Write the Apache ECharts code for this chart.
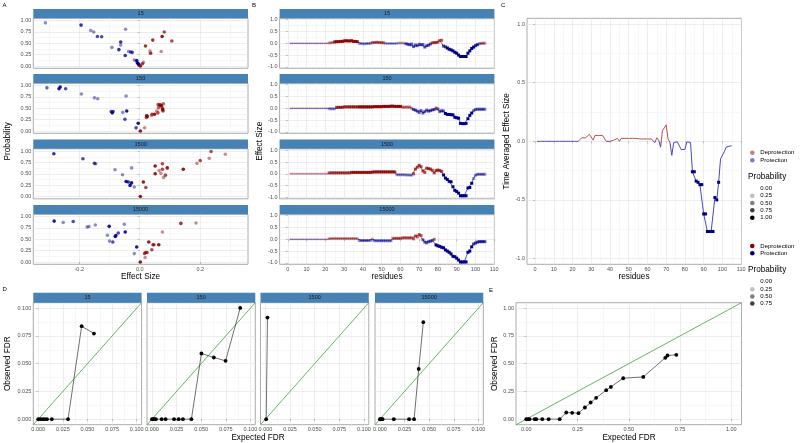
<!DOCTYPE html>
<html><head><meta charset="utf-8">
<script src="https://cdn.jsdelivr.net/npm/echarts@6/dist/echarts.min.js"></script>
<style>html,body{margin:0;padding:0;background:#fff}#c{width:800px;height:443px}</style>
</head><body><div id="c"></div>
<script>
// ---------------- DATA ----------------
const facets = ['15', '150', '1500', '15000'];

// Panel A: [effect size, probability, point alpha]
const A_15 = [[-0.312,0.95,0.45],[-0.194,0.90,0.8],[-0.162,0.78,0.45],[-0.152,0.75,0.45],[-0.140,0.65,0.7],[-0.126,0.645,0.7],[-0.047,0.81,0.45],[-0.092,0.41,0.45],[-0.063,0.53,0.8],[-0.063,0.46,0.45],[-0.069,0.36,0.8],[-0.048,0.23,0.8],[-0.037,0.32,0.45],[-0.030,0.31,0.7],[-0.025,0.30,0.7],[-0.018,0.13,0.45],[-0.010,0.12,0.9],[-0.008,0.07,0.9],[-0.005,0.05,0.9],[-0.003,0.03,0.9],
  [0.002,0.0,0.9],[0.009,0.05,0.7],[0.012,0.08,0.45],[0.019,0.44,0.8],[0.034,0.33,0.45],[0.036,0.28,0.8],[0.043,0.57,0.8],[0.074,0.65,0.9],[0.081,0.75,0.7],[0.071,0.32,0.45],[0.106,0.55,0.7]];
const A_150 = [[-0.307,0.95,0.6],[-0.267,0.93,0.9],[-0.263,0.97,0.9],[-0.245,0.93,0.7],[-0.193,0.815,0.45],[-0.150,0.73,0.45],[-0.139,0.71,0.45],[-0.045,0.77,0.45],[-0.094,0.43,0.7],[-0.091,0.40,0.9],[-0.088,0.43,0.7],[-0.056,0.41,0.45],[-0.043,0.44,0.9],[-0.049,0.26,0.7],[-0.005,0.17,0.9],[-0.012,0.07,0.7],
  [0.002,0.0,0.9],[0.016,0.07,0.45],[0.023,0.34,0.8],[0.025,0.32,0.9],[0.022,0.30,0.7],[0.039,0.34,0.45],[0.041,0.37,0.7],[0.049,0.37,0.9],[0.056,0.44,0.45],[0.060,0.40,0.7],[0.062,0.51,0.6],[0.061,0.58,0.7],[0.069,0.57,0.9],[0.072,0.55,0.9],[0.066,0.57,0.7],[0.078,0.60,0.6],[0.075,0.50,0.7],[0.076,0.47,0.9],[0.077,0.44,0.7]];
const A_1500 = [[-0.284,0.94,0.8],[-0.188,0.83,0.7],[-0.150,0.73,0.7],[-0.146,0.72,0.5],[-0.082,0.59,0.45],[-0.057,0.48,0.45],[-0.027,0.63,0.45],[-0.045,0.33,0.9],[-0.038,0.32,0.8],[-0.032,0.245,0.9],[-0.027,0.30,0.9],[-0.018,0.21,0.45],
  [0.002,0.0,0.9],[0.012,0.32,0.9],[0.020,0.20,0.7],[0.051,0.67,0.9],[0.051,0.50,0.9],[0.064,0.57,0.45],[0.070,0.51,0.45],[0.075,0.72,0.7],[0.075,0.60,0.7],[0.079,0.42,0.45],[0.085,0.47,0.7],[0.091,0.63,0.9],[0.144,0.60,0.9],[0.189,0.73,0.45],[0.200,0.79,0.7],[0.230,0.84,0.45],[0.236,0.99,0.7],[0.283,0.93,0.45]];
const A_15000 = [[-0.283,0.90,0.9],[-0.253,0.87,0.45],[-0.220,0.89,0.7],[-0.174,0.77,0.45],[-0.168,0.78,0.45],[-0.147,0.815,0.45],[-0.101,0.785,0.9],[-0.051,0.83,0.45],[-0.107,0.59,0.45],[-0.100,0.46,0.45],[-0.089,0.44,0.7],[-0.079,0.585,0.9],[-0.081,0.56,0.9],[-0.071,0.64,0.7],[-0.048,0.66,0.9],[-0.010,0.33,0.9],[-0.018,0.185,0.45],
  [0.002,0.0,0.9],[0.016,0.19,0.7],[0.020,0.21,0.7],[0.024,0.21,0.7],[0.018,0.10,0.45],[0.030,0.44,0.9],[0.040,0.27,0.7],[0.044,0.38,0.7],[0.047,0.38,0.7],[0.063,0.38,0.9],[0.075,0.66,0.45],[0.136,0.85,0.8],[0.186,0.86,0.45]];

// Panel B: effect size per residue (1..105) and probability per residue
const B_15 = [0,0,0,0,0,0,0,0,0,0, 0,0,0,0,0,0,0,0,0,0,
  0,0.02,0.02,0.03,0.06,0.07,0.07,0.08,0.08,0.10,
  0.11,0.10,0.10,0.11,0.08,0.08,0.07,-0.01,-0.01,-0.02,
  -0.02,-0.01,-0.01,-0.01,0.03,0.03,0.04,0.04,0.03,0.03,
  0.02,-0.01,-0.01,-0.01,-0.01,-0.01,-0.01,-0.01,0.01,0.01,
  0.01,0.01,-0.02,-0.04,-0.06,-0.03,-0.14,-0.07,-0.10,-0.04,
  -0.06,-0.05,-0.16,-0.10,-0.08,-0.03,0.02,0.03,0.03,0.05,
  0.12,0.13,-0.12,-0.15,-0.20,-0.25,-0.28,-0.32,-0.38,-0.42,
  -0.50,-0.56,-0.56,-0.56,-0.56,-0.42,-0.32,-0.22,-0.16,-0.10,
  -0.06,-0.02,0,0,0];
const B_150 = [0,0,0,0,0,0,0,0,0,0, 0,0,0,0,0,0,0,0,0,0,
  0,-0.02,-0.02,-0.02,-0.02,0.04,0.04,0.04,0.04,0.06,
  0.06,0.06,0.06,0.06,0.06,0.06,0.06,0.06,0.06,0.06,
  0.06,0.06,0.06,0.06,0.06,0.07,0.07,0.07,0.07,0.07,
  0.08,0.08,0.08,0.08,0.09,0.09,0.08,0.08,0.08,0.08,
  0.05,0.05,0.05,0.05,0.05,0.0,-0.05,-0.08,-0.12,-0.18,
  -0.10,-0.20,-0.14,-0.08,-0.12,-0.10,-0.07,-0.05,0.01,-0.03,
  -0.14,-0.10,-0.12,-0.22,-0.26,-0.26,-0.27,-0.28,-0.38,-0.40,
  -0.42,-0.64,-0.65,-0.65,-0.64,-0.44,-0.30,-0.20,-0.10,-0.05,
  -0.04,-0.04,-0.04,-0.04,-0.04];
const B_1500 = [0,0,0,0,0,0,0,0,0,0, 0,0,0,0,0,0,0,0,0,0,
  0,0.04,0.04,0.04,0.04,0.04,0.04,0.04,0.04,0.04,
  0.04,0.04,0.04,0.06,0.06,0.06,0.06,0.06,0.06,0.06,
  0.06,0.06,0.06,0.06,0.07,0.08,0.08,0.08,0.08,0.08,
  0.08,0.08,0.08,0.08,0.08,0.08,0.08,-0.04,-0.04,-0.04,
  -0.04,-0.04,-0.05,-0.05,-0.05,-0.06,0.0,0.20,0.28,0.36,
  0.30,0.12,0.06,0.24,0.22,0.20,0.15,0.04,0.14,0.16,
  0.14,0.10,-0.05,-0.18,-0.24,-0.32,-0.34,-0.55,-0.70,-0.75,
  -0.82,-0.93,-0.93,-0.93,-0.93,-0.60,-0.58,-0.40,-0.20,-0.06,
  -0.02,-0.02,-0.02,-0.02,-0.02];
const B_15000 = [0,0,0,0,0,0,0,0,0,0, 0,0,0,0,0,0,0,0,0,0,
  0,0.03,0.03,0.03,0.03,0.03,0.03,0.03,0.03,0.03,
  0.03,0.03,0.03,0.03,0.03,0.03,0.03,-0.05,-0.05,-0.05,
  -0.05,-0.05,-0.05,-0.05,0.0,-0.06,-0.06,-0.06,-0.06,-0.06,
  -0.06,-0.06,-0.06,-0.06,-0.06,0.04,0.04,0.04,0.04,0.04,
  0.06,0.06,0.06,0.06,0.06,0.06,0.02,0.14,0.10,0.20,
  0.16,-0.02,-0.12,-0.15,-0.10,-0.08,-0.05,0.0,-0.24,-0.28,
  -0.30,-0.34,-0.36,-0.45,-0.50,-0.55,-0.62,-0.72,-0.74,-0.80,
  -0.88,-0.96,-0.96,-0.96,-0.96,-0.55,-0.50,-0.32,-0.20,-0.16,
  -0.12,-0.10,-0.10,-0.10,-0.10];

const B_P15 = [0.05,0.05,0.05,0.05,0.05,0.05,0.05,0.05,0.05,0.05, 0.05,0.05,0.05,0.05,0.05,0.05,0.05,0.05,0.05,0.05,
  0.05,0.3,0.3,0.3,0.9,0.9,0.9,0.9,0.9,0.9,
  0.9,0.9,0.9,0.9,0.9,0.9,0.9,0.3,0.3,0.3,
  0.3,0.3,0.3,0.3,0.5,0.5,0.5,0.5,0.5,0.5,
  0.5,0.2,0.2,0.2,0.2,0.2,0.2,0.2,0.2,0.2,
  0.2,0.2,0.6,0.6,0.6,0.6,0.6,0.6,0.6,0.6,
  0.6,0.6,0.6,0.6,0.6,0.6,0.6,0.6,0.6,0.6,
  0.6,0.6,0.7,0.7,1,1,1,1,1,1,
  1,1,1,1,1,1,1,1,1,0.8,
  0.8,0.4,0.4,0.4,0.4];
const B_P150 = [0.05,0.05,0.05,0.05,0.05,0.05,0.05,0.05,0.05,0.05, 0.05,0.05,0.05,0.05,0.05,0.05,0.05,0.05,0.05,0.05,
  0.05,0.3,0.3,0.3,0.3,0.7,0.7,0.7,0.7,0.7,
  0.7,0.7,0.7,0.7,0.7,0.7,0.7,0.9,0.9,0.9,
  0.9,0.9,0.9,0.9,0.9,0.9,0.9,0.9,0.9,0.9,
  0.9,0.9,0.9,0.9,0.9,0.9,0.9,0.9,0.9,0.9,
  0.4,0.4,0.4,0.4,0.4,0.4,0.6,0.6,0.6,0.6,
  0.6,0.6,0.6,0.6,0.6,0.6,0.6,0.6,0.6,0.6,
  0.6,0.6,0.6,1,1,1,1,1,1,1,
  1,1,1,1,1,1,1,1,0.5,0.5,
  0.5,0.5,0.5,0.5,0.5];
const B_P1500 = [0.05,0.05,0.05,0.05,0.05,0.05,0.05,0.05,0.05,0.05, 0.05,0.05,0.05,0.05,0.05,0.05,0.05,0.05,0.05,0.05,
  0.05,0.6,0.6,0.6,0.6,0.6,0.6,0.6,0.6,0.6,
  0.6,0.6,0.6,0.8,0.8,0.8,0.8,0.8,0.8,0.8,
  0.8,0.8,0.8,0.8,0.8,0.8,0.8,0.8,0.8,0.8,
  0.8,0.8,0.8,0.8,0.8,0.8,0.8,0.3,0.3,0.3,
  0.3,0.3,0.3,0.3,0.3,0.3,0.7,0.7,0.7,0.7,
  0.7,0.7,0.7,0.7,0.7,0.7,0.7,0.7,0.7,0.7,
  0.7,0.7,1,1,1,1,1,1,1,1,
  1,1,1,1,1,1,1,1,0.4,0.4,
  0.4,0.4,0.4,0.4,0.4];
const B_P15000 = [0.05,0.05,0.05,0.05,0.05,0.05,0.05,0.05,0.05,0.05, 0.05,0.05,0.05,0.05,0.05,0.05,0.05,0.05,0.05,0.05,
  0.05,0.3,0.3,0.3,0.3,0.3,0.3,0.3,0.3,0.3,
  0.3,0.3,0.3,0.3,0.3,0.3,0.3,0.4,0.4,0.4,
  0.4,0.4,0.4,0.4,0.4,0.4,0.4,0.4,0.4,0.4,
  0.4,0.4,0.4,0.4,0.4,0.5,0.5,0.5,0.5,0.5,
  0.5,0.5,0.5,0.5,0.5,0.5,0.6,0.6,0.6,0.6,
  0.6,0.6,0.6,0.6,0.6,0.6,0.6,0.6,1,1,
  1,1,1,1,1,1,1,1,1,1,
  1,1,1,1,1,1,1,1,0.7,0.7,
  0.7,0.7,0.7,0.7,0.7];

// Panel C: time averaged effect size per residue, probability per residue
const C_eff = [0,0,0,0,0,0,0,0,0,0, 0,0,0,0,0,0,0,0,0,0,
  0,0,0,0,0.03,0.03,0.03,0.04,0.06,0.06,
  0.01,0.05,0.05,0.05,0.05,0.05,0.05,0,0,0,
  0,0.01,0.025,0.025,0,0.025,0.025,0.025,0.025,0.025,
  0.025,0.025,0.025,0.025,0.025,0.02,0.02,0.02,0.02,0.02,
  0.02,0.02,0.01,-0.01,0.03,0.01,-0.05,0.09,0.10,0.14,
  0.02,-0.01,-0.12,-0.01,-0.005,-0.005,-0.005,-0.07,-0.07,-0.07,
  -0.005,-0.01,-0.01,-0.26,-0.26,-0.34,-0.35,-0.37,-0.37,-0.62,
  -0.62,-0.77,-0.77,-0.77,-0.77,-0.48,-0.50,-0.35,-0.15,-0.16,
  -0.09,-0.05,-0.04,-0.04,-0.04];
const C_prob = [0,0,0,0,0,0,0,0,0,0, 0,0,0,0,0,0,0,0,0,0,
  0,0,0,0,0,0,0,0,0,0, 0,0,0,0,0,0,0,0,0,0,
  0,0,0,0,0,0,0,0,0,0, 0,0,0,0,0,0,0,0,0,0,
  0,0,0,0,0,0,0,0,0,0, 0,0,0,0,0,0,0,0,0,0,
  0,0,0,1,1,1,1,1,1,1, 1,1,1,1,1,1,1,1,0,0,
  0,0,0,0,0];

// Panel D: expected vs observed FDR per facet
const D_x15 = [0,0.0023,0.0046,0.0066,0.0089,0.0138,0.0303,0.0441,0.0566];
const D_y15 = [0,0,0,0,0,0,0,0.0838,0.0772];
const D_x150 = [0,0.0013,0.0026,0.004,0.0099,0.0139,0.0225,0.0272,0.0315,0.0401,0.0503,0.0629,0.0748,0.0897];
const D_y150 = [0,0,0,0,0,0,0,0,0,0,0.0592,0.0556,0.0526,0.1003];
const D_x1500 = [0.0008,0.0021];
const D_y1500 = [0,0.0916];
const D_x15000 = [0,0.0007,0.002,0.0027,0.0141,0.0296,0.0347,0.0394,0.0441];
const D_y15000 = [0,0,0,0,0,0,0,0.0453,0.0874];

// Panel E
const E_x = [0,0.008,0.016,0.041,0.049,0.078,0.109,0.163,0.195,0.224,0.255,0.286,0.314,0.341,0.390,0.413,0.473,0.571,0.678,0.689,0.732];
const E_y = [0,0,0,0,0,0,0,0,0.060,0.057,0.054,0.105,0.150,0.192,0.261,0.291,0.369,0.381,0.553,0.574,0.580];

// Tick values
const A_xTicks = [-0.2, 0, 0.2], A_xMinor = [-0.3, -0.1, 0.1, 0.3];
const P_ticks = [0, 0.25, 0.5, 0.75, 1], P_minor = [0.125, 0.375, 0.625, 0.875];
const R_ticks = [0,10,20,30,40,50,60,70,80,90,100,110], R_minor = [5,15,25,35,45,55,65,75,85,95,105];
const ES_ticks = [-1, -0.5, 0, 0.5, 1], ES_minor = [-0.75, -0.25, 0.25, 0.75];
const D_ticks = [0, 0.025, 0.05, 0.075, 0.1], D_minor = [0.0125, 0.0375, 0.0625, 0.0875];

// ---------------- STYLE / LAYOUT ----------------
const FONT = "'Liberation Sans', Arial, sans-serif";
const RED_DARK = '#8b0000', BLUE_DARK = '#00008b';
const RED_LINE = '#c04c4c', BLUE_LINE = '#4646c2';
const GREEN = '#3f9f3f';
const TICK_FS = 5.5, TITLE_FS = 8.2;

const ROW_TOP = [18.3, 83.3, 148.8, 214.3], ROW_H = 50, STRIP_H = 9.3;
const A_LEFT = 33.3, A_W = 214.7;
const B_LEFT = 279.6, B_W = 214.8;
const C_LEFT = 527, C_TOP = 18.3, C_W = 214.5, C_H = 246;
const D_LEFTS = [33.3, 147, 260.5, 375], D_W = 108.3, D_TOP = 302.7, D_H = 122, D_STRIP = 10;
const E_LEFT = 516, E_W = 225.5;

const grid = [], xAxis = [], yAxis = [], series = [], graphic = [];

function mainAxis(gi, pos, min, max, ticks, fmt, show) {
  return {type: 'value', gridIndex: gi, position: pos, min, max,
    axisLine: {show: false},
    axisTick: {show: show, length: 2, lineStyle: {color: '#9a9a9a', width: 0.6}, customValues: ticks},
    axisLabel: {show: show, customValues: ticks, formatter: v => fmt(v), fontSize: TICK_FS, color: '#4d4d4d', margin: 2, fontFamily: FONT},
    splitLine: {show: true, lineStyle: {color: '#e0e0e0', width: 0.6}}};
}
function minorAxis(gi, pos, min, max, ticks) {
  return {type: 'value', gridIndex: gi, position: pos, min, max,
    axisLine: {show: false},
    axisTick: {show: false, customValues: ticks},
    axisLabel: {show: false, customValues: ticks},
    splitLine: {show: true, lineStyle: {color: '#efefef', width: 0.5}}};
}
function panel(o) {
  const gi = grid.length;
  grid.push({left: o.left, top: o.top, width: o.w, height: o.h, show: true, containLabel: false, outerBoundsMode: 'none',
    backgroundColor: '#fff', borderColor: '#ababab', borderWidth: 1});
  const xi = xAxis.length, yi = yAxis.length;
  xAxis.push(mainAxis(gi, 'bottom', o.x[0], o.x[1], o.xt, o.xf, o.sx));
  xAxis.push(minorAxis(gi, 'top', o.x[0], o.x[1], o.xm));
  yAxis.push(mainAxis(gi, 'left', o.y[0], o.y[1], o.yt, o.yf, o.sy));
  yAxis.push(minorAxis(gi, 'right', o.y[0], o.y[1], o.ym));
  return {xi, yi, top: o.top, h: o.h, y: o.y};
}
function txt(x, y, s, size, opt) {
  opt = opt || {};
  graphic.push({type: 'text', x, y, rotation: opt.rot || 0, silent: true, z: 10,
    style: {text: s, x: 0, y: 0, fill: opt.color || '#000', fontSize: size, fontFamily: FONT,
      align: opt.align || 'center', verticalAlign: 'middle'}});
}
function strip(left, top, w, h, label) {
  graphic.push({type: 'rect', silent: true, z: 5, shape: {x: left, y: top - h, width: w, height: h}, style: {fill: '#4682B4'}});
  txt(left + w / 2, top - h / 2, label, 5.5, {color: '#1a1a1a'});
}
const f1 = v => v.toFixed(1), f2 = v => v.toFixed(2), f3 = v => v.toFixed(3), f0 = v => String(v);

// ---- Panel A
const A_sets = [A_15, A_150, A_1500, A_15000];
facets.forEach((f, i) => {
  const ax = panel({left: A_LEFT, top: ROW_TOP[i], w: A_W, h: ROW_H, x: [-0.352, 0.358], y: [-0.05, 1.05],
    xt: A_xTicks, xm: A_xMinor, yt: P_ticks, ym: P_minor, xf: f1, yf: f2, sx: i === 3, sy: true});
  series.push({type: 'scatter', xAxisIndex: ax.xi, yAxisIndex: ax.yi, symbolSize: 3.6,
    data: A_sets[i].map(p => ({value: [p[0], p[1]], itemStyle: {color: p[0] < 0 ? BLUE_DARK : RED_DARK, opacity: p[2]}}))});
  strip(A_LEFT, ROW_TOP[i], A_W, STRIP_H, f);
});

// ---- Panel B / C residue lines: colour switches at effect size 0 (gradient with hard stop at the zero line)
function signGradient(ax) {
  const f = (ax.y[1] - 0) / (ax.y[1] - ax.y[0]);
  return {type: 'linear', x: 0, y: ax.top, x2: 0, y2: ax.top + ax.h, global: true,
    colorStops: [{offset: 0, color: RED_LINE}, {offset: f, color: RED_LINE}, {offset: f, color: BLUE_LINE}, {offset: 1, color: BLUE_LINE}]};
}
function residueSeries(ax, vals, probs, lw) {
  series.push({type: 'line', xAxisIndex: ax.xi, yAxisIndex: ax.yi, showSymbol: false, symbol: 'none',
    lineStyle: {width: lw, color: signGradient(ax)}, data: vals.map((v, k) => [k + 1, v]), z: 3});
  series.push({type: 'scatter', xAxisIndex: ax.xi, yAxisIndex: ax.yi, symbol: 'rect', symbolSize: 3, z: 4,
    data: vals.map((v, k) => ({value: [k + 1, v], itemStyle: {color: v < 0 ? BLUE_DARK : RED_DARK, opacity: probs[k]}}))});
}
const B_sets = [B_15, B_150, B_1500, B_15000];
const B_probs = [B_P15, B_P150, B_P1500, B_P15000];
facets.forEach((f, i) => {
  const ax = panel({left: B_LEFT, top: ROW_TOP[i], w: B_W, h: ROW_H, x: [-4.4, 110.1], y: [-1.06, 1.06],
    xt: R_ticks, xm: R_minor, yt: ES_ticks, ym: ES_minor, xf: f0, yf: f1, sx: i === 3, sy: true});
  residueSeries(ax, B_sets[i], B_probs[i], 0.9);
  strip(B_LEFT, ROW_TOP[i], B_W, STRIP_H, f);
});

// ---- Panel C
{
  const ax = panel({left: C_LEFT, top: C_TOP, w: C_W, h: C_H, x: [-4.3, 110.2], y: [-1.05, 1.05],
    xt: R_ticks, xm: R_minor, yt: ES_ticks, ym: ES_minor, xf: f0, yf: f1, sx: true, sy: true});
  residueSeries(ax, C_eff, C_prob, 1);
}

// ---- Panel D
const D_xs = [D_x15, D_x150, D_x1500, D_x15000], D_ys = [D_y15, D_y150, D_y1500, D_y15000];
const D_lim = [-0.005, 0.105];
facets.forEach((f, i) => {
  const ax = panel({left: D_LEFTS[i], top: D_TOP, w: D_W, h: D_H, x: D_lim, y: D_lim,
    xt: D_ticks, xm: D_minor, yt: D_ticks, ym: D_minor, xf: f3, yf: f3, sx: true, sy: i === 0});
  series.push({type: 'line', xAxisIndex: ax.xi, yAxisIndex: ax.yi, symbol: 'none', showSymbol: false, z: 2,
    lineStyle: {color: GREEN, width: 0.8}, data: [[D_lim[0], D_lim[0]], [D_lim[1], D_lim[1]]]});
  series.push({type: 'line', xAxisIndex: ax.xi, yAxisIndex: ax.yi, symbol: 'circle', symbolSize: 3.8, showSymbol: true, z: 3,
    itemStyle: {color: '#000'}, lineStyle: {color: '#333', width: 0.7},
    data: D_xs[i].map((x, k) => [x, D_ys[i][k]])});
  strip(D_LEFTS[i], D_TOP, D_W, D_STRIP, f);
});

// ---- Panel E
{
  const E_lim = [-0.05, 1.05];
  const ax = panel({left: E_LEFT, top: D_TOP, w: E_W, h: D_H, x: E_lim, y: E_lim,
    xt: P_ticks, xm: P_minor, yt: P_ticks, ym: P_minor, xf: f2, yf: f2, sx: true, sy: true});
  series.push({type: 'line', xAxisIndex: ax.xi, yAxisIndex: ax.yi, symbol: 'none', showSymbol: false, z: 2,
    lineStyle: {color: GREEN, width: 0.8}, data: [[E_lim[0], E_lim[0]], [E_lim[1], E_lim[1]]]});
  series.push({type: 'line', xAxisIndex: ax.xi, yAxisIndex: ax.yi, symbol: 'circle', symbolSize: 3.8, showSymbol: true, z: 3,
    itemStyle: {color: '#000'}, lineStyle: {color: '#333', width: 0.7},
    data: E_x.map((x, k) => [x, E_y[k]])});
}

// ---- Titles & panel letters
txt(2.5, 5.5, 'A', 6, {align: 'left'});
txt(252, 5.5, 'B', 6, {align: 'left'});
txt(501, 5.5, 'C', 6, {align: 'left'});
txt(2.5, 289, 'D', 6, {align: 'left'});
txt(489, 290, 'E', 6, {align: 'left'});
txt(8, 141.3, 'Probability', TITLE_FS, {rot: Math.PI / 2});
txt(260, 141.3, 'Effect Size', TITLE_FS, {rot: Math.PI / 2});
txt(506.6, 141.3, 'Time Averaged Effect Size', TITLE_FS, {rot: Math.PI / 2});
txt(8, 363.7, 'Observed FDR', TITLE_FS, {rot: Math.PI / 2});
txt(495, 363.7, 'Observed FDR', TITLE_FS, {rot: Math.PI / 2});
txt(140.6, 277, 'Effect Size', TITLE_FS);
txt(387, 277, 'residues', TITLE_FS);
txt(634, 277, 'residues', TITLE_FS);
txt(258, 438, 'Expected FDR', TITLE_FS);
txt(629, 438, 'Expected FDR', TITLE_FS);

// ---- Legends
const LEG_DOT_X = 752.3, LEG_TXT_X = 760.3;
function legDot(y, color, op, label) {
  graphic.push({type: 'circle', silent: true, shape: {cx: LEG_DOT_X, cy: y, r: 2.3}, style: {fill: color, opacity: op}});
  txt(LEG_TXT_X, y, label, 6, {align: 'left'});
}
legDot(152.7, RED_DARK, 0.5, 'Deprotection');
legDot(160.3, BLUE_DARK, 0.5, 'Protection');
txt(748, 176.7, 'Probability', TITLE_FS, {align: 'left'});
legDot(188.3, '#000', 0, '0.00');
legDot(195.7, '#000', 0.25, '0.25');
legDot(203, '#000', 0.5, '0.50');
legDot(210.3, '#000', 0.75, '0.75');
legDot(217.7, '#000', 1, '1.00');
legDot(246, RED_DARK, 1, 'Deprotection');
legDot(253.3, BLUE_DARK, 1, 'Protection');
txt(748, 270, 'Probability', TITLE_FS, {align: 'left'});
legDot(281.7, '#000', 0, '0.00');
legDot(289.3, '#000', 0.25, '0.25');
legDot(296.5, '#000', 0.5, '0.50');
legDot(303.5, '#000', 0.75, '0.75');

const chart = echarts.init(document.getElementById('c'), null, {renderer: 'canvas'});
chart.setOption({
  animation: false,
  backgroundColor: '#fff',
  textStyle: {fontFamily: FONT},
  grid, xAxis, yAxis, series, graphic
});
</script></body></html>
